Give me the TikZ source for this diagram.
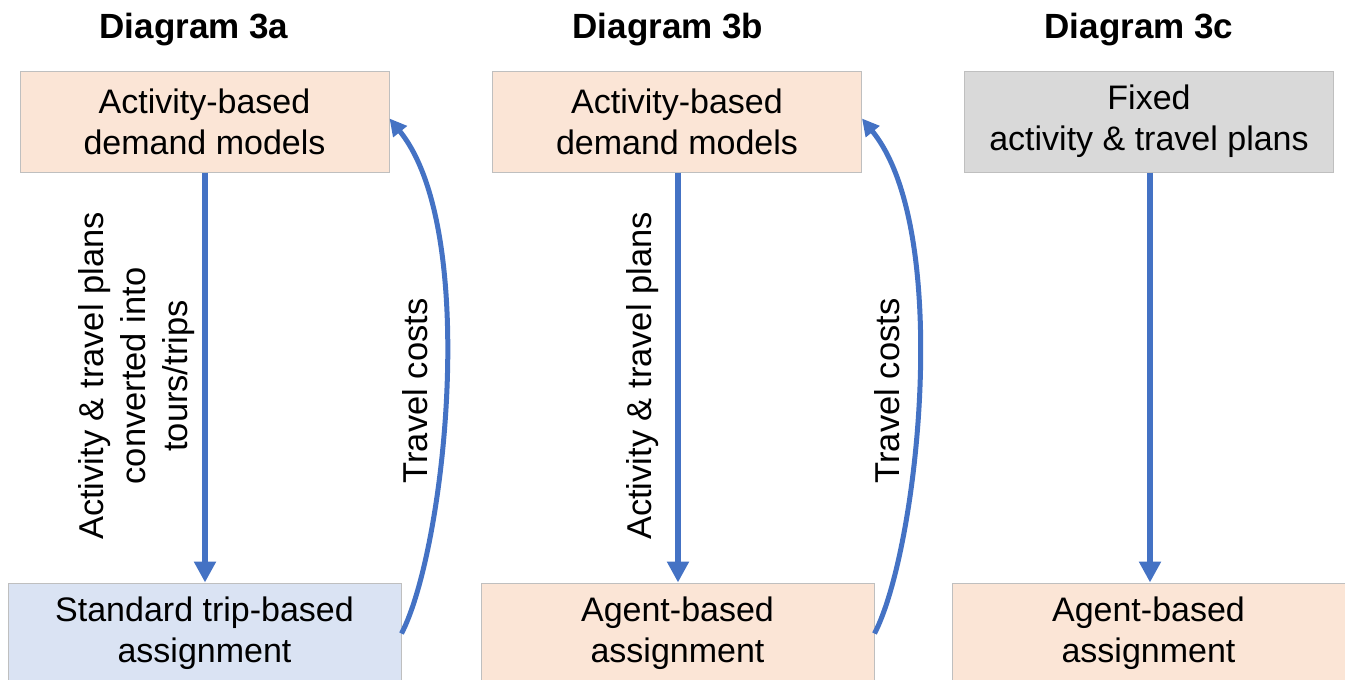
\documentclass[tikz,border=0pt]{standalone}
\usepackage{fontspec}
\setmainfont{Liberation Sans}
\usetikzlibrary{arrows.meta}
\definecolor{peach}{HTML}{FBE5D6}
\definecolor{paleblue}{HTML}{DAE3F3}
\definecolor{palegray}{HTML}{D9D9D9}
\definecolor{edgegray}{HTML}{BFBFBF}
\definecolor{flowblue}{HTML}{4472C4}
\tikzset{
  box/.style={draw=edgegray, line width=1pt, minimum height=101pt, inner sep=0pt,
    align=center, font=\fontsize{34}{41}\selectfont},
  topbox/.style={box, minimum width=369pt},
  botbox/.style={box, minimum width=393pt},
  title/.style={font=\fontsize{35}{40}\selectfont\bfseries},
  flow/.style={draw=flowblue, line width=6pt, -{Triangle[length=21pt,width=21pt]}},
  feedback/.style={draw=flowblue, line width=5pt, -{Triangle[length=17pt,width=17pt]}},
  sidelabel/.style={rotate=90, align=center, font=\fontsize{34.5}{42}\selectfont}
}
\begin{document}
\begin{tikzpicture}[x=1pt,y=-1pt]
\clip (0,0) rectangle (1345,680);
\fill[white] (0,0) rectangle (1345,680);

% column titles
\node[title] (ta) at (194,30) {Diagram 3a};
\node[title] (tb) at (668,30) {Diagram 3b};
\node[title] (tc) at (1139,30) {Diagram 3c};

% diagram 3a
\node[topbox, fill=peach] (a1) at (204.5,121.5) {Activity-based\\demand models};
\node[botbox, fill=paleblue] (a2) at (204.5,633.5) {Standard trip-based\\assignment};
\draw[flow] (a1.south -| 205,0) -- (a2.north -| 205,0);
\node[sidelabel] (la) at (137,376) {Activity \& travel plans\\converted into\\tours/trips};
\draw[feedback] (a2.east) .. controls (445,550) and (480,230) .. ([yshift=3pt]a1.east);
\node[sidelabel] (ca) at (415,391) {Travel costs};

% diagram 3b
\node[topbox, fill=peach] (b1) at (677,121.5) {Activity-based\\demand models};
\node[botbox, fill=peach] (b2) at (677.5,633.5) {Agent-based\\assignment};
\draw[flow] (b1.south -| 678,0) -- (b2.north -| 678,0);
\node[sidelabel] (lb) at (643,376) {Activity \& travel plans};
\draw[feedback] (b2.east) .. controls (918,550) and (953,230) .. ([yshift=3pt]b1.east);
\node[sidelabel] (cb) at (887,391) {Travel costs};

% diagram 3c
\node[topbox, fill=palegray] (c1) at (1149,121.5) {Fixed\\activity \& travel plans};
\node[botbox, fill=peach] (c2) at (1148.5,633.5) {Agent-based\\assignment};
\draw[flow] (c1.south -| 1150,0) -- (c2.north -| 1150,0);
\end{tikzpicture}
\end{document}
